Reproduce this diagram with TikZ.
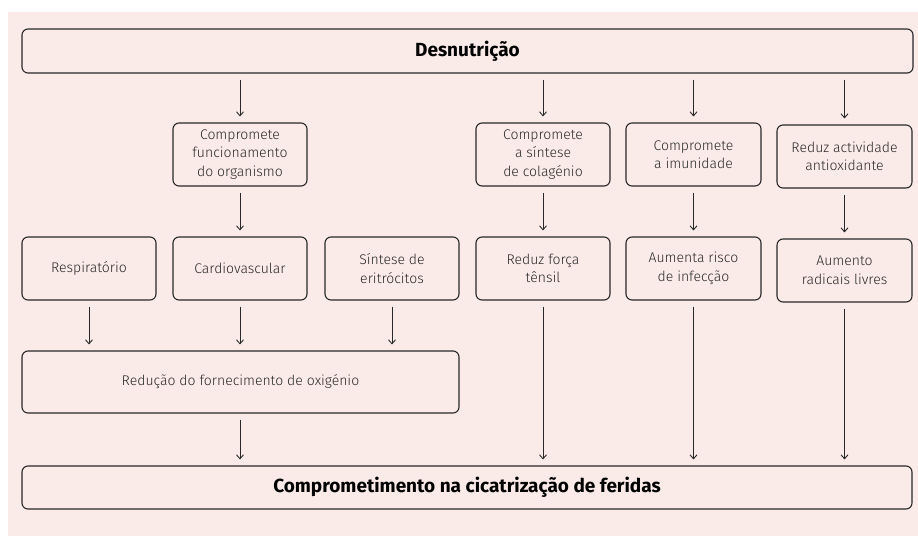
\documentclass[tikz,border=0pt]{standalone}
\usepackage{fontspec}
\setmainfont{Fira Sans}[UprightFont={* Light}, BoldFont={* Bold}]
\usetikzlibrary{arrows.meta}
\definecolor{bgpink}{RGB}{251,235,232}
\definecolor{ink}{RGB}{40,40,40}
\tikzset{
  box/.style={draw=ink, line width=1.1pt, rounded corners=6pt, align=center, inner sep=0pt,
    font=\fontsize{14}{18.5}\selectfont, text=ink},
  bigbox/.style={box, font=\fontsize{19}{21}\bfseries\selectfont, text=black},
  arr/.style={draw=ink, line width=0.9pt, -{Straight Barb[length=4pt,width=7pt]}, shorten <=6pt, shorten >=6pt}
}
\begin{document}
\begin{tikzpicture}[x=1pt,y=-1pt]
\useasboundingbox (0,0) rectangle (918,536);
\fill[bgpink] (8,12) rectangle (918,536);
\node[bigbox, minimum width=891, minimum height=44] (desn) at (467.5,51) {Desnutrição};
\node[box, minimum width=134, minimum height=63] (cf) at (240,154.5) {Compromete\\funcionamento\\do organismo};
\node[box, minimum width=134, minimum height=63] (cs) at (543,154.5) {Compromete\\a síntese\\de colagénio};
\node[box, minimum width=135, minimum height=63] (ci) at (693.5,154.5) {Compromete\\a imunidade};
\node[box, minimum width=135, minimum height=63] (ra) at (844.5,156.5) {Reduz actividade\\antioxidante};
\node[box, minimum width=134, minimum height=63] (resp) at (89,268.5) {Respiratório};
\node[box, minimum width=134, minimum height=63] (card) at (240,268.5) {Cardiovascular};
\node[box, minimum width=134, minimum height=63] (sint) at (392,268.5) {Síntese de\\eritrócitos};
\node[box, minimum width=134, minimum height=63] (rft) at (543,268.5) {Reduz força\\tênsil};
\node[box, minimum width=135, minimum height=63] (ari) at (693.5,268.5) {Aumenta risco\\de infecção};
\node[box, minimum width=135, minimum height=63] (arl) at (844.5,270.5) {Aumento\\radicais livres};
\node[box, minimum width=437, minimum height=62] (red) at (240.5,382) {Redução do fornecimento de oxigénio};
\node[bigbox, minimum width=890, minimum height=43] (comp) at (467,487.5) {Comprometimento na cicatrização de feridas};
% arrows
\draw[arr] (cf.north |- desn.south) -- (cf.north);
\draw[arr] (cs.north |- desn.south) -- (cs.north);
\draw[arr] (ci.north |- desn.south) -- (ci.north);
\draw[arr] (ra.north |- desn.south) -- (ra.north);
\draw[arr] (cf.south) -- (card.north);
\draw[arr] (cs.south) -- (rft.north);
\draw[arr] (ci.south) -- (ari.north);
\draw[arr] (ra.south) -- (arl.north);
\draw[arr] (resp.south) -- (resp.south |- red.north);
\draw[arr] (card.south) -- (card.south |- red.north);
\draw[arr] (sint.south) -- (sint.south |- red.north);
\draw[arr] (red.south -| card.south) -- (card.south |- comp.north);
\draw[arr] (rft.south) -- (rft.south |- comp.north);
\draw[arr] (ari.south) -- (ari.south |- comp.north);
\draw[arr] (arl.south) -- (arl.south |- comp.north);
\end{tikzpicture}
\end{document}
